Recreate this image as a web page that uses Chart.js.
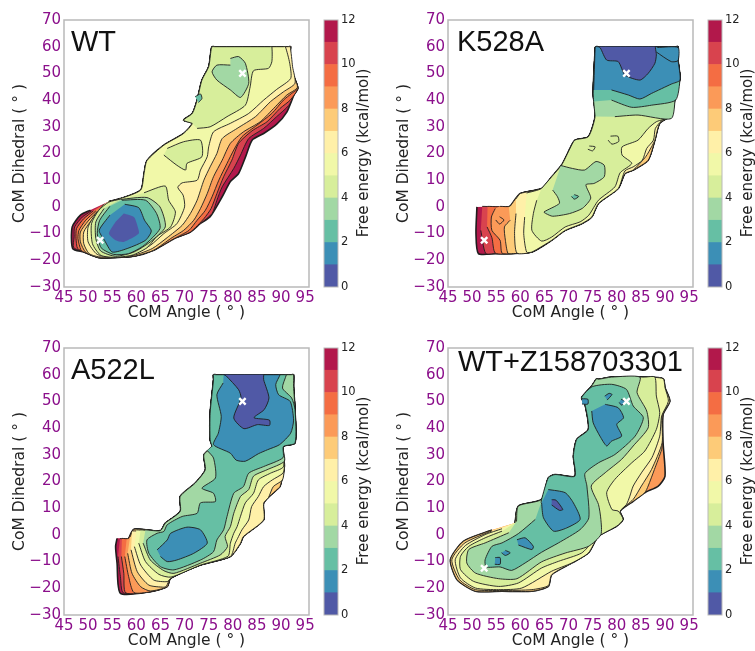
<!DOCTYPE html>
<html>
<head>
<meta charset="utf-8">
<script src="https://cdn.jsdelivr.net/npm/chart.js@4"></script>
<style>
html,body{margin:0;padding:0;background:#fff;}
body{position:relative;width:755px;height:651px;overflow:hidden;}
canvas{position:absolute;}
canvas.plot{filter:blur(0.5px);}
.tag{position:absolute;font-family:"Liberation Sans",sans-serif;font-size:29px;color:#111;line-height:32px;white-space:nowrap;}
.cbt{position:absolute;font-family:"DejaVu Sans",sans-serif;font-size:15px;color:#222;line-height:18px;width:200px;text-align:center;transform:rotate(-90deg);white-space:nowrap;}
</style>
</head>
<body>
<script>
// axis ticks
const angleTicks = [45,50,55,60,65,70,75,80,85,90,95];
const dihedralTicks = [-30,-20,-10,0,10,20,30,40,50,60,70];
const energyTicks = [0,2,4,6,8,10,12];

// one colour per kcal/mol band, low to high
const bandColors = ['#5059a6','#3c8fb6','#66bfa4','#a2d8a4','#d7ee9b','#f1f8a8','#fff0a8','#fdcb78','#fb9a58','#f46d43','#d8434e','#b2184b'];
const bandLevels = [1,1,1,1,1,1,1,1,1,1,1,1];

// white crosses
const crossesBoth = [[82,50],[52.5,-12.5]];
const crossesA522L = [[82,50]];

// WT contours (angle, dihedral)
const wtEdgeLeft = [[54.3,2],[56.7,3.1],[60.9,6.3],[61.6,12.5],[62.2,17.3],[65.7,23.1],[69.8,27.5],[71.6,31.3],[69.8,32.5],[71.6,35],[72.6,40],[73.6,47.5],[75,52.5],[75.5,58.8],[75.7,60],[76.2,60]];
const wtOutline = [...wtEdgeLeft,[91.6,60],[92,60],[91.8,56.5],[92.2,51],[93.5,44.5],[92.7,42],[91.2,35.5],[89.1,31],[86.4,27.5],[84,25],[82.7,19],[81.2,12.5],[79.5,9.5],[77.8,3.8],[75.3,-3.7],[73.3,-6.2],[71.2,-9.4],[67.8,-11.9],[63.6,-16.2],[59.5,-18.5],[55.3,-19],[52.2,-19],[49.1,-16.9],[46.8,-15.6],[46.7,-7.5],[48.4,-3.1],[50.5,-1.2]];
const wt11 = [...wtEdgeLeft,[91.6,60],[92,60],[91.8,56.5],[92.2,51],[93.5,44.5],[92.7,42],[91.6,38],[89.1,33.8],[86.4,29.4],[83.3,25.6],[81.6,19.4],[80.2,14.4],[77.8,7.5],[76.7,2.5],[75.7,-2.5],[73.3,-6.2],[71.2,-9.4],[67.8,-11.9],[63.6,-16.2],[59.5,-18.5],[55.3,-19],[52.2,-19],[49.1,-16.9],[47,-15.2],[47.1,-11.2],[47.2,-7.5],[48.8,-3.8],[50.7,-1.5]];
const wt10 = [...wtEdgeLeft,[91.6,60],[92,60],[91.8,56.5],[92.2,51],[93.5,44.5],[91.9,40],[89.8,36.9],[87.1,31.9],[84,28.5],[81.2,23.8],[79.8,17.5],[78.1,11.3],[76.7,5],[75.5,-0.6],[74,-4.4],[71.2,-9.4],[67.8,-11.9],[63.6,-16.2],[59.5,-18.5],[55.3,-19],[52.2,-19],[49.1,-16.9],[47.8,-15.5],[47.5,-11.9],[47.6,-8.1],[49.1,-4.4],[51.1,-1.5]];
const wt9 = [...wtEdgeLeft,[91.6,60],[92,60],[91.8,56.5],[92.2,51],[93.5,44.5],[92.2,42.5],[90.5,40],[88.1,35],[85,30.6],[81.9,26.3],[80.2,21.3],[78.8,16.3],[77.1,10],[75.7,3.8],[74.3,-1.3],[72.6,-5],[70.9,-8.8],[67.8,-11.9],[63.6,-16.2],[59.5,-18.5],[55.3,-19],[52.2,-19],[49.1,-16.9],[48.5,-16.1],[47.9,-11.9],[48.1,-8.8],[49.5,-5],[51.6,-1.5]];
const wt8 = [...wtEdgeLeft,[91.6,60],[92,60],[91.8,56.5],[92.2,51],[93.4,44.8],[91.2,41.9],[88.8,37.5],[85.7,31.9],[82.2,28.1],[79.5,23.8],[77.8,17.5],[76,11.3],[74.7,5],[73.3,-0.6],[71.9,-5],[69.8,-8.8],[67.4,-11.5],[63.6,-16.2],[59.5,-18.5],[55.3,-19],[52.2,-19],[49.5,-17],[48.4,-13.1],[48.4,-9.4],[50,-5.3],[52,-1.5]];
const wt7 = [...wtEdgeLeft,[91.5,60],[91.9,60],[92.4,52.5],[92.9,46.3],[90.5,43.1],[87.8,39.4],[84.7,33.8],[80.9,29.4],[77.8,25.6],[76.7,20],[75.3,15],[74,10],[72.6,2.5],[71.2,-2.5],[69.5,-6.9],[66.4,-11.5],[63.3,-15.6],[59.5,-18.1],[55.3,-18.7],[52.2,-18.7],[50.2,-17.5],[49.1,-13.8],[49.1,-9.4],[50.7,-5],[52.6,-1.3]];
const wt6 = [...wtEdgeLeft,[90.5,60],[90.9,60],[91.8,53.8],[92,48.1],[89.1,44],[86.4,40],[83.3,35],[79.5,31.3],[76,28.1],[75,22.5],[74.7,18.8],[73.3,13.8],[72.6,10],[69.5,9],[68.6,7.3],[69.7,4.4],[70,0],[68.4,-6.3],[65.7,-10],[62.9,-14.4],[59.5,-17.5],[55.3,-18.5],[51.9,-17.8],[50,-13.1],[50,-7.5],[51.6,-2.5],[53.3,1]];
const wt5Top = [[71.6,31.3],[69.8,32.5],[71.6,35],[72.6,40],[73.6,47.5],[75,52.5],[75.5,58.8],[75.7,60],[76.2,60],[87.7,60],[88.1,60],[88.1,54.4],[87.4,51.9],[84.3,51],[83.6,45],[82.6,38.1],[78.8,33.8],[75.3,30],[72.6,29.4]];
const wt5Mid = [[66.4,21.9],[69.8,24.4],[73.3,25],[73.6,18.8],[70.5,16.3],[70.2,13.8],[68.4,15.6],[65.7,19.4]];
const wt5Low = [[61.6,5.3],[66,7.8],[66.7,2.5],[68.1,-1.9],[67.1,-7.5],[64.3,-11],[62.2,-15.3],[59.1,-18.1],[55.3,-18.9],[52.6,-18.1],[50.9,-13.8],[50.7,-6.3],[52.2,-1.3],[54.3,1.8],[56.7,2.9]];
const wt4Top = [[79.5,55.6],[81.2,56.3],[82.6,53.8],[83.3,46.3],[81.6,41],[79.5,43.8],[76.7,47.5],[75.7,50.6],[76.7,53.1],[79.5,53.1]];
const wt4Low = [[56.7,2.8],[62.2,3.5],[64.9,0],[66,-7.5],[62.9,-13.1],[59.5,-16.9],[55.7,-18.5],[52.6,-16.5],[51.6,-11.9],[51.6,-5.6],[53.3,-0.6]];
const wt3Spot = [[72.2,41.3],[73.3,42.3],[73.6,40.6],[72.9,39.1]];
const wt3Low = [[57,2.5],[61.9,2.5],[64.2,-2.5],[64.9,-8.1],[61.6,-14.4],[58.4,-17.5],[55.3,-17.8],[52.7,-15.3],[51.9,-10],[52.4,-5],[54.5,0.2]];
const wt2Low = [[57.6,1],[60.5,-0.3],[61.7,-5],[63.1,-9],[61.9,-12.5],[58.1,-15.6],[55,-16.9],[53.4,-12.5],[52.3,-8.8],[54.5,-3.1]];
const wt1Low = [[57.4,-2.5],[59.5,-3.8],[60.3,-7.5],[60.5,-10],[57.4,-13.1],[55.7,-12.5],[54.3,-10],[55.7,-5.6]];

// K528A contours
const kTopEdge = [[75.5,58.9],[75.6,60],[76.1,60],[92.3,60],[92.7,60],[92.7,55.1]];
const kEdgeUpper = [[57.9,0.3],[60,5],[64.4,6.9],[66.5,11.3],[68.6,15.8],[70.3,21.9],[71.3,25],[74.1,26.3],[75.5,33.9],[75.1,42.6]];
const kEdgeRight = [[93.1,48.1],[92.2,41.9],[91.3,34.4],[88.9,31.3],[87.9,25],[86.5,17.5],[83.4,13.8],[81.7,12.5],[80.3,6.9],[76.2,1.3],[74.8,-3.8],[72.7,-6.3],[69.3,-8.8],[66.5,-12.5],[62.4,-16.9],[58.2,-17.5]];
const kOutline = [...kEdgeUpper,...kTopEdge,...kEdgeRight,[54.8,-17.5],[51.3,-17.5],[50.8,-10],[51,0]];
const k11 = [[52.1,0.2],...kEdgeUpper,...kTopEdge,...kEdgeRight,[54.8,-17.5],[52.8,-17.4],[51.8,-8.8]];
const k10 = [[53.2,0.2],...kEdgeUpper,...kTopEdge,...kEdgeRight,[54.8,-17.3],[54.1,-11.5],[53.1,-7.5]];
const k9 = [[55.8,0.2],...kEdgeUpper,...kTopEdge,...kEdgeRight,[56.2,-17.3],[55.8,-12.5],[54.1,-8.8],[54,-3.8],[54.8,-0.6]];
const k9Ring = [[55.7,-3.7],[56.6,-4.9],[55.7,-6.4],[54.9,-4.9]];
const k8 = [[57.6,0.1],...kEdgeUpper,...kTopEdge,...kEdgeRight,[57.4,-17.3],[56.9,-12.5],[56.7,-7.5],[57.9,-5]];
const k7 = [[59.1,3],[60,5],[64.4,6.9],[66.5,11.3],[68.6,15.8],[70.3,21.9],[71.3,25],[74.1,26.3],[75.5,33.9],[75.1,42.6],...kTopEdge,[93.1,48.1],[92.2,41.9],[91.3,34.4],[88.9,31.3],[87.9,25],[87.2,22.5],[86,18.8],[83.4,13.8],[81.7,12.5],[80.3,6.9],[76.2,1.3],[74.8,-3.8],[72.7,-6.3],[69.3,-8.8],[66.5,-12.5],[62.4,-16.9],[59.3,-17.3],[58.8,-10],[59.1,-2.5]];
const k6 = [[61.3,5.2],[64.4,6.9],[66.5,11.3],[68.6,15.8],[70.3,21.9],[71.3,25],[74.1,26.3],[75.5,33.9],[75.1,42.6],...kTopEdge,[93.1,48.1],[92.2,41.9],[91.3,34.4],[89.3,32.3],[88,29.4],[87.6,25],[86.2,21.9],[85.3,17.5],[83.4,15],[81.7,13.5],[80.3,6.9],[76.2,1.3],[74.8,-3.8],[72.7,-6.3],[69.3,-8.8],[66.5,-12.5],[62.4,-16.9],[61.3,-16.9],[60.7,-10],[60.9,-3.8]];
const k5 = [[64.4,6.9],[66.5,11.3],[68.6,15.8],[70.3,21.9],[71.3,25],[74.1,26.3],[75.5,33.9],[75.1,42.6],...kTopEdge,[93.1,48.1],[92.2,41.9],[91.3,34],[88.2,31.9],[86.5,29.4],[84.4,25],[81.1,22.5],[81.1,19.4],[83.1,16.3],[80.7,12.8],[79.6,7.5],[76.2,2.5],[74.2,-3.1],[72.4,-5.6],[69.3,-7.5],[66.5,-11.3],[64.4,-12.8],[62.4,-8.8],[62.7,-2.5],[63.4,2.5]];
const k5Spot1 = [[78.7,26.5],[80.2,26.5],[80.4,24.5],[79,23.5],[78.2,25]];
const k5Spot2 = [[74.3,22.8],[75.5,22.5],[75,21],[74,21.6]];
const k4Top = [[75.5,33.9],[75.1,42.6],...kTopEdge,[93.1,48.1],[92.2,41.9],[91.3,33.1],[84.4,34.4],[79.6,33.8]];
const k4Mid = [[68.4,15.5],[70.8,14.4],[73.3,13.8],[75.7,17],[77.4,15.6],[77.4,11.3],[75.3,8.8],[73.6,8.3],[74.6,3.3],[72.9,-0.5],[70.2,-2.5],[66.7,-3.5],[65.3,-2.5],[64.9,-1.9],[68.1,1.3],[67.7,3.8],[66.7,6.3]];
const k3Top = [[75.2,39.5],[75.1,42.6],...kTopEdge,[93.1,48.1],[92.2,40],[87.2,38.1],[83.1,37.3],[78.9,40]];
const k3Spot = [[71.2,4.6],[72.1,3.9],[71.2,2.9],[70.6,3.9]];
const k2Top = [[75.2,43.8],...kTopEdge,[93.1,47.5],[91.3,46],[87.2,42.5],[84.8,40.4],[82.4,41.9],[78.9,43.8]];
const k2Lobe = [[88.2,58],[91.3,54.4],[92.7,54.8],[92.7,59.7],[88.4,59.7]];
const k1Top = [[76.2,60],[76.6,59.5],[77.9,55],[80.3,54.4],[81.7,49.4],[84.8,47.5],[86.5,50],[87.9,53.8],[88.2,56.9],[88,59.6],[88,60]];

// A522L contours
const aTopRight = [[75.3,45.6],[76,58.1],[76,60],[76.5,60],[92.2,60],[92.6,60],[92.6,55.7],[92.9,46.9],[92.9,34.4],[90.5,33.1]];
const aUpper = [[58.4,-1.3],[59.5,2.1],[65,1.6],[66,4.4],[69.1,8.8],[69.1,14.4],[72.2,19.4],[74.3,24.4],[74,30],[75.7,33.1],[75.3,35.6],...aTopRight,[90.7,25.6]];
const aLower = [[89.8,18.1],[89.1,16.9],[86.4,11.9],[86.4,5.6],[82.2,-0.6],[81.6,-3.1],[79.5,-8.1],[73.3,-11.3],[67.1,-16.3],[66.4,-19.4],[62.9,-21.3]];
const aOutline = [...aUpper,...aLower,[56.7,-21.9],[56,-10.6],[55.7,-4.4],[56,-1.3]];
const a11 = [[56.6,-1.4],...aUpper,...aLower,[57.3,-21.7],[56.7,-15.6],[56.2,-8.1]];
const a10 = [[57,-1.3],...aUpper,...aLower,[57.8,-21.7],[57.4,-14.4],[56.9,-8.1]];
const a9 = [[58,-1.4],...aUpper,...aLower,[59.5,-21.6],[58.4,-15.6],[57.6,-8.1]];
const a8 = [[58.7,-0.8],...aUpper.slice(1),...aLower.slice(0,10),[62.9,-21],[60.9,-19.4],[59.1,-14.4],[58.2,-6.9]];
const a7 = [[59.1,1.5],...aUpper.slice(2),[90.3,20.6],[88.4,18.1],[87.4,14],[86.4,11.9],[86.4,5.6],[82.2,-0.6],[81.6,-3.1],[79.5,-8.1],[73.3,-11.3],[67.1,-16.3],[66.2,-19.3],[65.7,-19.6],[62.6,-18.8],[60.2,-13.8],[58.9,-5.6]];
const a6 = [[60,1.9],...aUpper.slice(2),[90.4,23.1],[88.2,20.6],[86.4,18.1],[85.3,14.4],[83.9,10.6],[83.3,5.6],[81.9,1.9],[81,-1.3],[80.5,-3.1],[79.5,-8.1],[73.3,-11.3],[67.1,-16.3],[66.4,-17.5],[63.6,-16.9],[60.9,-11.3],[59.6,-4.4]];
const a5 = [[60.9,1.9],...aUpper.slice(2,-1),[90.5,25.5],[87.8,23.1],[85.3,20.6],[84.3,15.6],[82.6,12],[81.6,7],[80.9,3.1],[80.2,0.6],[79.5,-3.1],[79,-8],[73.3,-11.3],[67.2,-15.8],[64.7,-14.8],[61.9,-10],[60.5,-3.1]];
const a4 = [[61.9,1.9],...aUpper.slice(2,-1),[90.7,27.6],[87.1,24.4],[84.3,22],[83.3,17],[81.6,14.4],[80.2,8.1],[79.5,3.1],[78.4,-0.6],[78.9,-4.4],[77.4,-7.5],[73.3,-10.6],[67.8,-14.4],[65.7,-13.4],[62.9,-9.4],[61.4,-3.1]];
const a3 = [[75.7,33.1],[75.3,35.6],[75.3,45.6],[76,58.1],[76,60],[76.5,60],[90.8,60],[91.1,60],[90.3,55],[92.2,51.3],[92.9,46.9],[92.9,34.4],[90.5,33.1],[90.4,28.9],[86.4,25.6],[83.3,23.1],[82.2,18.1],[80.2,15.6],[78.8,6.9],[78.1,1.9],[76.7,-1.9],[76,-6.3],[73.3,-9.4],[67.8,-13.1],[65,-11.9],[62.6,-6.9],[62.2,-1.9],[64.3,0.6],[65.7,1.3],[66.4,3.8],[69.5,6.9],[72.6,8.1],[73.3,12],[76.4,12.5],[76,15.6],[73.6,17.5],[76.4,21.3],[76,28.8],[74.7,31.6]];
const a2Top = [[78.1,60],[78.5,60],[89.5,60],[89.8,60],[88.9,56.3],[89.5,52.5],[91.9,50],[92.6,43],[92,38.1],[89.7,33.8],[87.2,31.9],[85.3,30.4],[82.6,27.6],[80.7,28],[79.5,30.6],[76,33.8],[77,38.1],[77.6,44.4],[76.7,52.5],[78,56.9]];
const a2Low = [[64.3,-5.6],[66.4,-1.9],[67.1,0.6],[70.5,2.9],[73.3,1.9],[74.7,-3.1],[71.9,-6.9],[68.4,-9.4],[66.4,-10],[65,-8.1]];
const a1Top = [[78.2,60],[78.6,59.6],[81.2,54.4],[81.7,51.3],[80.2,43.8],[82.3,39.8],[85.1,41.3],[87.6,41],[87.6,43],[84.4,43.9],[86.5,46.9],[87.5,51.3],[86.4,58.1],[86.4,59.6],[86.4,60]];

// WT+Z158703301 contours
const zEdgeUpper = [[64.4,13.3],[65.8,21.4],[67.2,22.6],[71.3,22],[71,29.5],[71.7,35.8],[74.1,39.5],[73.4,48.9],[72.7,51.4],[74.8,55.8],[75.8,58.5],[76.2,58.3]];
const zOutline = [[58.9,4.5],[59.6,10.8],...zEdgeUpper,[78.9,59.1],[85.8,59.1],[89.6,58.5],[90,55.1],[91,50.1],[89.6,45.1],[89.6,34.5],[90,22],[88.6,18.3],[85.8,15.8],[83.4,12.6],[80.7,8.9],[81.3,5.8],[80,3.3],[76.2,-0.5],[74.1,-6.8],[70.7,-10.5],[66.5,-14.9],[65.8,-19.3],[62.4,-21.1],[56.2,-21.1],[50.7,-21.1],[46.9,-16.8],[45.5,-9.3],[48.2,-2.4],[54.1,1.8]];
const z8 = [[58.9,4.5],[59.6,10.8],...zEdgeUpper,[78.9,59.1],[85.8,59.1],[89.6,58.5],[90,55.1],[91,50.1],[89.6,45.1],[89.4,34.5],[89.3,32],[87.8,24.5],[86.5,18.3],[85.8,15.8],[83.4,12.6],[80.7,8.9],[81.3,5.8],[80,3.3],[76.2,-0.5],[74.1,-6.8],[70.7,-10.5],[66.5,-14.9],[65.8,-19.3],[62.4,-21.1],[56.2,-21.1],[50.7,-21.1],[46.9,-16.8],[45.5,-9.3],[48.2,-2.4],[54.1,1.8]];
const z7 = [[58.9,4.5],[59.6,10.8],...zEdgeUpper,[78.9,59.1],[85.8,59.1],[89.6,58.5],[90,55.1],[91,50.1],[89.4,45.1],[89.4,34.5],[87.2,24.5],[85.1,18.3],[83.4,13.3],[80.7,8.9],[81.3,5.8],[80,3.3],[76.2,-0.5],[74.1,-6.8],[70.7,-10.5],[66.5,-14.9],[65.8,-19],[62.4,-20.5],[56.2,-20.8],[50.7,-20.5],[47.4,-16.8],[45.8,-9.3],[48.5,-3],[54.1,1.5]];
const z6 = [[58.9,4.5],[59.6,10.8],...zEdgeUpper,[78.9,59.1],[85.8,59.1],[89.6,58.5],[90,55.1],[90.7,50.1],[89.3,44.5],[88.9,37],[87.3,29],[85.2,23.5],[83.4,18.3],[82.7,14.5],[82,11.4],[80.7,8.9],[81.3,5.8],[80,3.3],[76.2,-0.5],[74.1,-6.8],[70.7,-10.5],[66.5,-13.6],[60.3,-19.9],[55.5,-20.5],[50.7,-19.9],[47.6,-16.1],[46.5,-9.3],[48.6,-4],[52.7,0.1],[56.2,2.3]];
const z5 = [[58.9,4.5],[59.6,10.8],...zEdgeUpper,[78.9,59.1],[85.8,59.1],[87.9,59.1],[88.2,52],[88.9,45.8],[88.2,39.5],[85.8,31.4],[83.1,27],[79.6,20.8],[77.9,15.8],[79,9.5],[80.3,8.9],[81.3,5.8],[80,3.3],[76.2,-0.5],[75.1,-2.4],[72.7,-6.8],[67.9,-9.9],[64.4,-12.4],[59.6,-18],[55.5,-19.3],[50.3,-17.4],[47.6,-13],[47.6,-8],[49.3,-4.3],[52.7,-1.1],[56.2,1.4]];
const z4 = [[59.2,5],[59.6,10.8],...zEdgeUpper,[78.9,59.1],[84.8,59.1],[84.2,53.3],[86.2,46.4],[86.5,40.1],[83.4,33.3],[81,28.3],[77.6,23.3],[74.7,18.3],[76.2,11.4],[76.7,5.8],[76.7,0.1],[74.1,-4.3],[69.3,-6.8],[64.4,-10.1],[59.3,-16.4],[55.5,-16.4],[50.7,-14.3],[48.9,-10.5],[49.3,-5.5],[52.7,-3],[57.6,0.8]];
const z3 = [[64.3,12],[64.4,13.3],[65.8,21.4],[67.2,22.6],[71.3,22],[71,29.5],[71.7,35.8],[74.1,39.5],[73.4,48.9],[72.7,51.4],[74.9,55.5],[78.9,56.4],[82,54.5],[83.4,48.3],[85.5,43.9],[83.8,37],[79.6,30.1],[76.2,27],[73.4,23],[73.8,18.3],[74.2,6.4],[72.4,2],[67.9,-3],[64.4,-6.5],[61,-10.5],[58.2,-13.3],[55.8,-12],[52.9,-12],[52.7,-9.3],[54.1,-4.3],[56.2,-3],[59.6,0.5],[63.1,5.8]];
const z2Top = [[77.6,48.9],[80.3,47.6],[81.4,43.9],[80,41.4],[81,37],[78.9,35.1],[77.9,33.3],[76.5,37],[75.1,42],[74.8,46.4]];
const z2Mid = [[65.8,17],[69.3,15.8],[71,12],[72.4,5.8],[69.6,2.6],[66.9,1.4],[64.8,6.4],[64.4,12]];
const z2Low1 = [[59.3,-1.8],[61,-1.1],[62.7,-4.3],[62.4,-5.5],[59.6,-3.8]];
const z2Low2 = [[54.8,-8.5],[55.8,-8.5],[55.8,-11],[54.7,-11]];
const z2Low3 = [[56.9,-5.8],[57.9,-6.7],[56.9,-7.7],[56.1,-6.7]];
const z2Spot1 = [[72.8,51],[74,50.8],[74,49],[72.8,49]];
const z2Spot2 = [[80.9,50.8],[81.8,50],[81,48.6],[80.5,49.6]];
const z2Spot3 = [[77.5,52],[78.4,53],[79,52.6],[78,50.5]];
const z1Mid = [[66.5,13.2],[67.4,13],[68.8,9.5],[68.1,9.2],[66.5,11.2]];

const wtShapes = [[12,wtOutline],[11,wt11],[10,wt10],[9,wt9],[8,wt8],[7,wt7],[6,wt6],[5,wt5Top],[5,wt5Mid],[5,wt5Low],[4,wt4Top],[4,wt4Low],[3,wt3Spot],[3,wt3Low],[2,wt2Low],[1,wt1Low,'noline']];
const kShapes = [[12,kOutline],[11,k11],[10,k10],[9,k9],[9,k9Ring],[8,k8],[7,k7],[6,k6],[5,k5],[5,k5Spot1],[5,k5Spot2],[4,k4Top],[4,k4Mid],[3,k3Top],[3,k3Spot],[2,k2Top],[2,k2Lobe],[1,k1Top]];
const aShapes = [[12,aOutline],[11,a11],[10,a10],[9,a9],[8,a8],[7,a7],[6,a6],[5,a5],[4,a4],[3,a3],[2,a2Top],[2,a2Low],[1,a1Top]];
const zShapes = [[9,zOutline],[8,z8],[7,z7],[6,z6],[5,z5],[4,z4],[3,z3],[2,z2Top],[2,z2Mid],[2,z2Low1],[2,z2Low2],[2,z2Low3],[2,z2Spot1],[2,z2Spot2],[2,z2Spot3],[1,z1Mid]];

const panels = [
  {name:'WT', shapes:wtShapes, crosses:crossesBoth, left:0, top:0, tagLeft:71, tagTop:25},
  {name:'K528A', shapes:kShapes, crosses:crossesBoth, left:384, top:0, tagLeft:457, tagTop:25},
  {name:'A522L', shapes:aShapes, crosses:crossesA522L, left:0, top:328, tagLeft:71, tagTop:353},
  {name:'WT+Z158703301', shapes:zShapes, crosses:crossesBoth, left:384, top:328, tagLeft:458, tagTop:345}
];

const frame = {
  id:'frame',
  afterDraw(chart){
    const a = chart.chartArea, ctx = chart.ctx;
    ctx.save();
    ctx.strokeStyle = '#b9b9b9';
    ctx.lineWidth = chart.options.frameWidth || 1.5;
    ctx.strokeRect(a.left,a.top,a.right-a.left,a.bottom-a.top);
    ctx.restore();
  }
};

function addCanvas(cls,left,top,w,h){
  const c = document.createElement('canvas');
  c.className = cls;
  c.width = w; c.height = h;
  c.style.left = left+'px'; c.style.top = top+'px';
  document.body.appendChild(c);
  return c;
}

function addText(cls,text,left,top){
  const d = document.createElement('div');
  d.className = cls;
  d.textContent = text;
  d.style.left = left+'px'; d.style.top = top+'px';
  document.body.appendChild(d);
}

function drawPanel(p){
  const c = addCanvas('plot',p.left,p.top,320,325);
  const datasets = p.shapes.map((s,i) => ({
    data: s[1].map(q => ({x:q[0],y:q[1]})),
    showLine:true, fill:'shape', tension:0.22,
    backgroundColor: bandColors[s[0]-1],
    borderColor: s[2] ? 'transparent' : '#1e1e1e',
    borderWidth: s[2] ? 0 : (i == 0 ? 1.6 : 0.9),
    pointRadius:0
  }));
  // first dataset ends up on top, so lowest energy first
  datasets.reverse();
  datasets.unshift({
    data: p.crosses.map(q => ({x:q[0],y:q[1]})),
    pointStyle:'crossRot', pointRadius:4.5, pointBorderWidth:2.4,
    pointBorderColor:'#fff', pointBackgroundColor:'#fff', showLine:false
  });
  new Chart(c,{
    type:'scatter',
    data:{datasets},
    plugins:[frame],
    options:{
      responsive:false, animation:false,
      layout:{padding:{top:20,right:11}},
      plugins:{legend:{display:false},tooltip:{enabled:false}},
      scales:{
        x:{
          min:45,max:95.8,
          afterBuildTicks:s=>{s.ticks=angleTicks.map(v=>({value:v}));},
          afterFit:s=>{s.height=38;},
          grid:{display:false,drawTicks:false},border:{display:false},
          ticks:{color:'#8b0f8b',font:{family:'DejaVu Sans',size:15},padding:2,maxRotation:0,autoSkip:false},
          title:{display:true,text:'CoM Angle ( ° )',color:'#222',font:{family:'DejaVu Sans',size:15.5},padding:{bottom:3,top:0}}
        },
        y:{
          min:-30,max:70,
          afterBuildTicks:s=>{s.ticks=dihedralTicks.map(v=>({value:v}));},
          afterFit:s=>{s.width=64;},
          grid:{display:false,drawTicks:false},border:{display:false},
          ticks:{color:'#8b0f8b',font:{family:'DejaVu Sans',size:15},padding:3,autoSkip:false,
            callback:v=>String(v).replace('-','−')},
          title:{display:true,text:'CoM Dihedral ( ° )',color:'#222',font:{family:'DejaVu Sans',size:15.5},padding:{top:11,bottom:0}}
        }
      }
    }
  });
  addText('tag',p.name,p.tagLeft,p.tagTop);

  const bar = addCanvas('bar',p.left+316,p.top,62,325);
  new Chart(bar,{
    type:'bar',
    data:{
      labels:[''],
      datasets:bandLevels.map((v,i)=>({data:[v],backgroundColor:bandColors[i],barPercentage:1,categoryPercentage:1,borderWidth:0}))
    },
    plugins:[frame],
    options:{
      frameWidth:1,
      responsive:false, animation:false,
      layout:{padding:{top:20,bottom:38,left:8}},
      plugins:{legend:{display:false},tooltip:{enabled:false}},
      scales:{
        x:{stacked:true,display:false},
        y:{
          stacked:true,position:'right',min:0,max:12,
          afterBuildTicks:s=>{s.ticks=energyTicks.map(v=>({value:v}));},
          afterFit:s=>{s.width=40;},
          grid:{display:false,drawTicks:false},border:{display:false},
          ticks:{color:'#222',font:{family:'DejaVu Sans',size:11.5},padding:3}
        }
      }
    }
  });
  addText('cbt','Free energy (kcal/mol)',p.left+263,p.top+144);
}

panels.forEach(drawPanel);
</script>
</body>
</html>
